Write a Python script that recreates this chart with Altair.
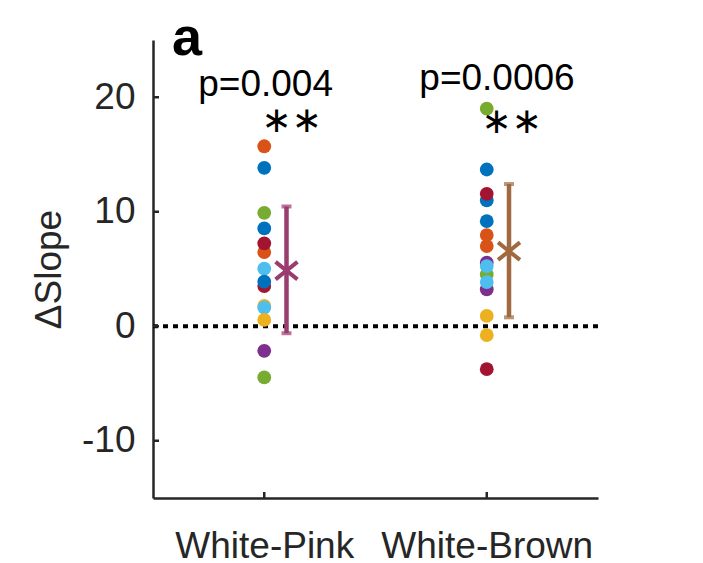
import altair as alt
import pandas as pd

categories = ["White-Pink", "White-Brown"]
cat_pos = [1, 2]

left_vals = [15.72, 13.84, 9.91, 8.54, 6.48, 7.24, 5.03, 3.51, 3.90, 1.77, 1.63, 0.55, -2.15, -4.47]
left_cols = ["orange", "blue", "green", "blue", "orange", "red", "lightblue", "red", "blue",
             "yellow", "lightblue", "yellow", "purple", "green"]
right_vals = [19.0, 13.69, 10.99, 11.57, 9.18, 7.96, 7.00, 5.55, 4.53, 3.23, 5.26, 3.86, 0.90, -0.78, -3.75]
right_cols = ["green", "blue", "blue", "red", "blue", "orange", "orange", "purple", "green", "purple",
              "lightblue", "lightblue", "yellow", "yellow", "red"]

color_names = ["blue", "orange", "yellow", "purple", "green", "lightblue", "red"]
color_hex = ["#0072BD", "#D95319", "#EDB120", "#7E2F8E", "#77AC30", "#4DBEEE", "#A2142F"]

means = [4.86, 6.56]
err_lo = [-0.61, 0.78]
err_hi = [10.46, 12.42]
err_x = [1.1, 2.1]
err_colors = ["#9B3C6E", "#A0693F"]

p_texts = ["p=0.004", "p=0.0006"]
p_x = [1.006, 2.046]
p_y = [20.08, 20.6]
star_texts = ["\u2217\u2217", "\u2217\u2217"]
star_x = [1.122, 2.111]
star_y = [17.9, 17.85]
panel_label = ["a"]
panel_x = [0.585]
panel_y = [23.7]

y_ticks = [-10, 0, 10, 20]

FONT = "Liberation Sans"
AX = "#262626"

pts = pd.DataFrame({
    "x": [cat_pos[0]] * len(left_vals) + [cat_pos[1]] * len(right_vals),
    "y": left_vals + right_vals,
    "c": left_cols + right_cols,
})
pts["order"] = range(len(pts))

err = pd.DataFrame({"x": err_x, "lo": err_lo, "hi": err_hi, "m": means, "col": err_colors})

xscale = alt.Scale(domain=[0.5, 2.5], nice=False, zero=False)
yscale = alt.Scale(domain=[-15, 25], nice=False, zero=False)

label_expr = " : ".join(
    [f"datum.value == {p} ? '{c}'" for p, c in zip(cat_pos[:-1], categories[:-1])]
) + f" : '{categories[-1]}'"

xaxis = alt.Axis(values=cat_pos, labelExpr=label_expr, title=None, tickSize=0, grid=False,
                 labelFontSize=37, labelFont=FONT, labelColor=AX, labelPadding=30,
                 labelLimit=1000, labelOverlap=False,
                 domainColor=AX, domainWidth=2.5)
yaxis = alt.Axis(values=y_ticks, labelExpr="'' + datum.value", title="\u0394Slope", tickSize=0, grid=False,
                 labelFontSize=37, labelFont=FONT, labelColor=AX, labelPadding=18, labelLimit=1000,
                 domainColor=AX, domainWidth=2.5,
                 titleFontSize=37, titleFont=FONT, titleColor=AX, titleFontWeight="normal",
                 titleAngle=270, titleX=-93, titleY=229, titleAlign="center",
                 titleBaseline="alphabetic", titleLimit=1000)

base = alt.Chart(pts)

points = base.mark_circle(size=190, opacity=1).encode(
    x=alt.X("x:Q", scale=xscale, axis=xaxis),
    y=alt.Y("y:Q", scale=yscale, axis=yaxis),
    color=alt.Color("c:N", scale=alt.Scale(domain=color_names, range=color_hex), legend=None),
    order="order:Q",
)

zero = alt.Chart(pd.DataFrame({"y": [0]})).mark_rule(
    color="black", strokeWidth=4, strokeDash=[5, 5]
).encode(y=alt.Y("y:Q", scale=yscale))

ytick_marks = alt.Chart(pd.DataFrame({"y": y_ticks})).mark_rule(color=AX, strokeWidth=2.5).encode(
    y=alt.Y("y:Q", scale=yscale), x=alt.value(0), x2=alt.value(6)
)
xtick_marks = alt.Chart(pd.DataFrame({"x": cat_pos})).mark_rule(color=AX, strokeWidth=2.5).encode(
    x=alt.X("x:Q", scale=xscale), y=alt.value(458), y2=alt.value(452)
)

err_base = alt.Chart(err)
ebar = err_base.mark_rule(strokeWidth=4.5).encode(
    x=alt.X("x:Q", scale=xscale), y=alt.Y("lo:Q", scale=yscale), y2="hi:Q",
    color=alt.Color("col:N", scale=None),
)
cap_lo = err_base.mark_tick(orient="horizontal", size=10, thickness=4).encode(
    x=alt.X("x:Q", scale=xscale), y=alt.Y("lo:Q", scale=yscale),
    color=alt.Color("col:N", scale=None),
)
cap_hi = err_base.mark_tick(orient="horizontal", size=10, thickness=4).encode(
    x=alt.X("x:Q", scale=xscale), y=alt.Y("hi:Q", scale=yscale),
    color=alt.Color("col:N", scale=None),
)
xmark = err_base.mark_point(
    shape="M-1,-0.8L1,0.8M-1,0.8L1,-0.8", size=480, filled=False, strokeWidth=4, opacity=1
).encode(
    x=alt.X("x:Q", scale=xscale), y=alt.Y("m:Q", scale=yscale),
    color=alt.Color("col:N", scale=None),
)

ptxt = alt.Chart(pd.DataFrame({"x": p_x, "y": p_y, "t": p_texts})).mark_text(
    font=FONT, fontSize=37, color="black", align="center", baseline="alphabetic"
).encode(x=alt.X("x:Q", scale=xscale), y=alt.Y("y:Q", scale=yscale), text="t:N")

stars = alt.Chart(pd.DataFrame({"x": star_x, "y": star_y, "t": star_texts})).mark_text(
    font="DejaVu Sans", fontSize=36, color="black", align="center", baseline="middle"
).encode(x=alt.X("x:Q", scale=xscale), y=alt.Y("y:Q", scale=yscale), text="t:N")

plabel = alt.Chart(pd.DataFrame({"x": panel_x, "y": panel_y, "t": panel_label})).mark_text(
    font=FONT, fontSize=54, fontWeight="bold", color="black", align="left", baseline="alphabetic"
).encode(x=alt.X("x:Q", scale=xscale), y=alt.Y("y:Q", scale=yscale), text="t:N")

chart = alt.layer(
    zero, points, ebar, cap_lo, cap_hi, xmark, ytick_marks, xtick_marks, ptxt, stars, plabel
).properties(
    width=445, height=458,
    autosize=alt.AutoSizeParams(type="none"),
    padding={"left": 145, "top": 32, "right": 80, "bottom": 70},
    background="white",
).configure_view(stroke=None)

chart.save("out.html", embed_options={"renderer": "svg", "actions": False})
